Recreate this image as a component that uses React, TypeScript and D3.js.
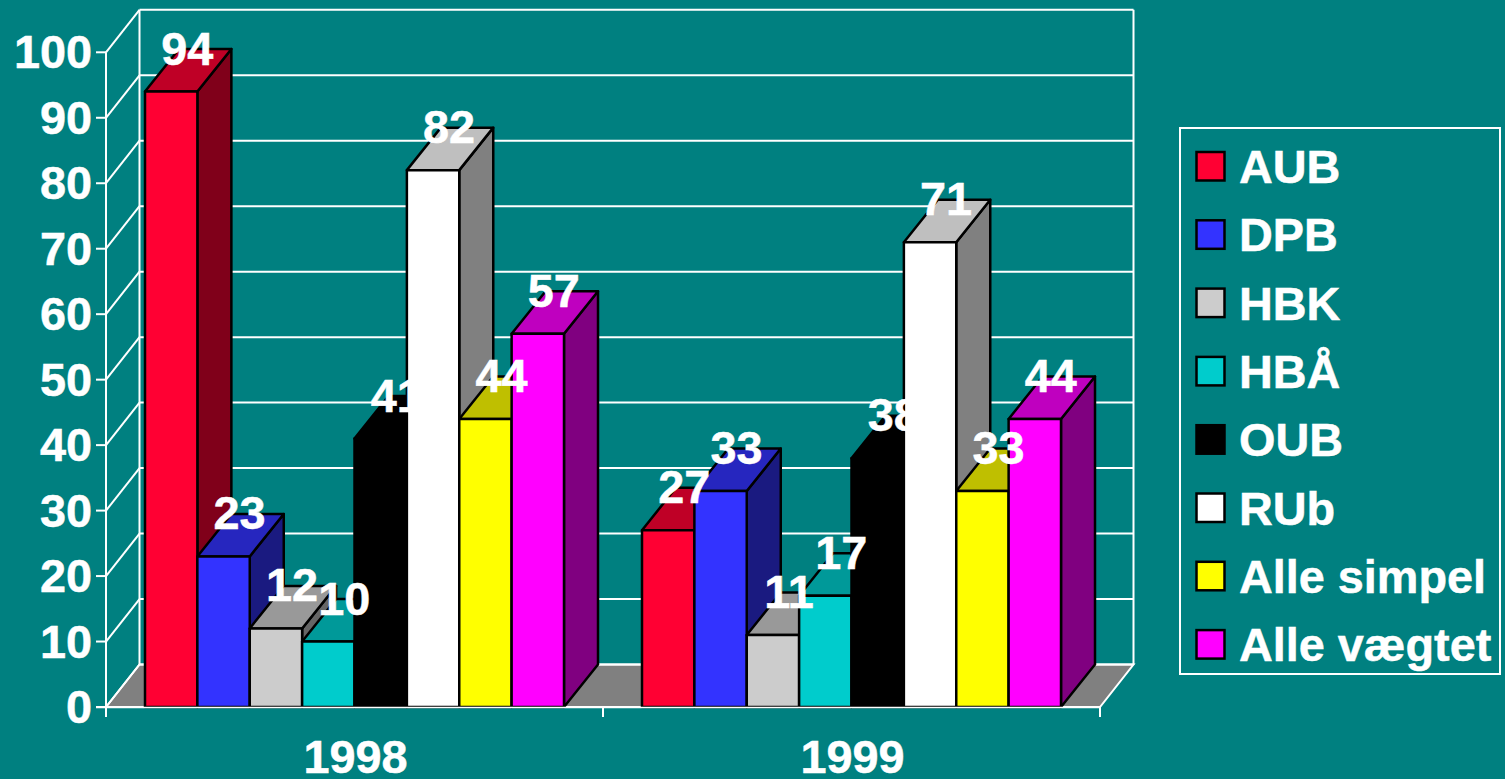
import React from "react";
import * as d3 from "d3";

const categories = ["1998", "1999"];
const seriesNames = ["AUB", "DPB", "HBK", "HBÅ", "OUB", "RUb", "Alle simpel", "Alle vægtet"];
const seriesColors = ["#FF0033", "#3333FF", "#CCCCCC", "#00CCCC", "#000000", "#FFFFFF", "#FFFF00", "#FF00FF"];
const values1998 = [94, 23, 12, 10, 41, 82, 44, 57];
const values1999 = [27, 33, 11, 17, 38, 71, 33, 44];
const yTicks = [0, 10, 20, 30, 40, 50, 60, 70, 80, 90, 100];

const FONT = "'Liberation Sans', Arial, sans-serif";
const DX = 33.5;
const DY = 42.5;
const BAR_DX = 34;
const SIZE = 46.8;
const TEXT_STROKE = 0.5;

const y = d3.scaleLinear().domain([0, 100]).range([707, 52.3]);
const x0 = d3.scaleBand<string>().domain(categories).range([106, 1100]);
const x1 = d3.scaleBand<string>().domain(seriesNames).range([39, 458]);

function shade(c: string, k: number) {
  const r = d3.rgb(c);
  return d3.rgb(r.r * k, r.g * k, r.b * k).formatHex();
}

const pts = (p: number[][]) => p.map((q) => q.join(",")).join(" ");

export default function App() {
  const [left, right] = x0.range();
  const base = y(0);
  const rows = [values1998, values1999];
  return (
    <svg width={1505} height={779} style={{ position: "absolute", left: 0, top: 0, display: "block", background: "#008080" }}>
      {/* floor */}
      <polygon points={pts([[left, base], [left + DX, base - DY], [right + DX, base - DY], [right, base]])} fill="#808080" stroke="#fff" strokeWidth={2} />
      {/* walls + grid */}
      {yTicks.map((t) => (
        <g key={t} stroke="#fff" strokeWidth={2}>
          <line x1={left - 10} x2={left} y1={y(t)} y2={y(t)} />
          <line x1={left} x2={left + DX} y1={y(t)} y2={y(t) - DY} />
          <line x1={left + DX} x2={right + DX} y1={y(t) - DY} y2={y(t) - DY} />
        </g>
      ))}
      <g stroke="#fff" strokeWidth={2}>
        <line x1={left} x2={left} y1={y(100)} y2={base + 10} />
        <line x1={left + DX} x2={left + DX} y1={y(100) - DY} y2={base - DY} />
        <line x1={right + DX} x2={right + DX} y1={y(100) - DY} y2={base - DY} />
        <line x1={left - 10} x2={right} y1={base} y2={base} />
        {[...categories.map((c) => x0(c)!), right].map((v) => (
          <line key={v} x1={v} x2={v} y1={base} y2={base + 10} />
        ))}
      </g>
      {/* bars */}
      {categories.map((c, ci) =>
        seriesNames.map((s, si) => {
          const xa = x0(c)! + x1(s)!;
          const xb = xa + x1.bandwidth();
          const top = y(rows[ci][si]);
          const col = seriesColors[si];
          return (
            <g key={c + s} stroke="#000" strokeWidth={2.5} strokeLinejoin="round">
              <polygon points={pts([[xb, base], [xb + BAR_DX, base - DY], [xb + BAR_DX, top - DY], [xb, top]])} fill={shade(col, 0.5)} />
              <polygon points={pts([[xa, top], [xa + BAR_DX, top - DY], [xb + BAR_DX, top - DY], [xb, top]])} fill={shade(col, 0.75)} />
              <rect x={xa} y={top} width={xb - xa} height={base - top} fill={col} />
            </g>
          );
        })
      )}
      {/* white base line over bars */}
      <line x1={left - 10} x2={right} y1={base + 0.5} y2={base + 0.5} stroke="#fff" strokeWidth={1.5} />
      {/* value labels */}
      <g fontFamily={FONT} fontWeight={700} fontSize={SIZE} fill="#fff" stroke="#fff" strokeWidth={TEXT_STROKE} textAnchor="middle">
        {categories.map((c, ci) =>
          seriesNames.map((s, si) => (
            <text key={c + s} x={x0(c)! + x1(s)! + x1.bandwidth() / 2 + 16} y={y(rows[ci][si]) - 27}>
              {rows[ci][si]}
            </text>
          ))
        )}
      </g>
      {/* axis labels */}
      <g fontFamily={FONT} fontWeight={700} fontSize={SIZE} fill="#fff" stroke="#fff" strokeWidth={TEXT_STROKE}>
        {yTicks.map((t) => (
          <text key={t} x={92} y={y(t) + 16} textAnchor="end">
            {t}
          </text>
        ))}
        {categories.map((c) => (
          <text key={c} x={x0(c)! + x0.bandwidth() / 2 + 1} y={773} textAnchor="middle">
            {c}
          </text>
        ))}
      </g>
      {/* legend */}
      <rect x={1180} y={128} width={320} height={546} fill="none" stroke="#fff" strokeWidth={2} />
      {seriesNames.map((s, i) => (
        <g key={s}>
          <rect x={1196.5} y={152 + i * 68.3} width={28} height={28.5} fill={seriesColors[i]} stroke="#000" strokeWidth={2.5} />
          <text x={1239} y={183 + i * 68.3} fontFamily={FONT} fontWeight={700} fontSize={SIZE} fill="#fff" stroke="#fff" strokeWidth={TEXT_STROKE}>
            {s}
          </text>
        </g>
      ))}
    </svg>
  );
}
